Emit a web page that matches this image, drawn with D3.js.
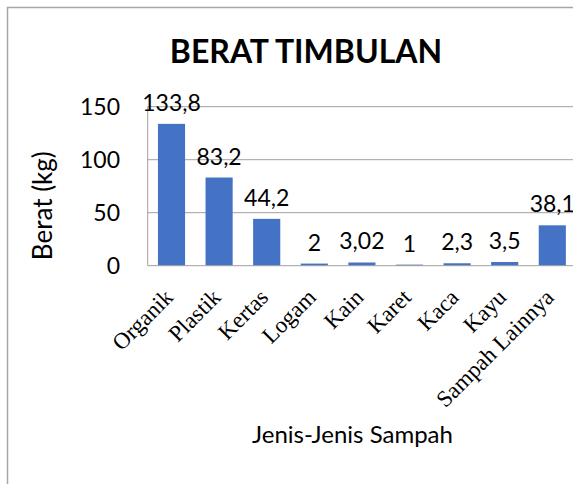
<!DOCTYPE html>
<html>
<head>
<meta charset="utf-8">
<script src="https://cdn.jsdelivr.net/npm/d3@7"></script>
<style>
  html, body { margin: 0; padding: 0; background: #ffffff; }
  svg { display: block; }
</style>
</head>
<body>
<svg id="chart" width="573" height="484"></svg>
<script>
// ---- data ----
const categories = ["Organik", "Plastik", "Kertas", "Logam", "Kain", "Karet", "Kaca", "Kayu", "Sampah Lainnya"];
const values = [133.8, 83.2, 44.2, 2, 3.02, 1, 2.3, 3.5, 38.1];
const valueLabels = ["133,8", "83,2", "44,2", "2", "3,02", "1", "2,3", "3,5", "38,1"];
const yTicks = [0, 50, 100, 150];
const title = "BERAT TIMBULAN";
const yTitle = "Berat (kg)";
const xTitle = "Jenis-Jenis Sampah";

// ---- drawing ----
const svg = d3.select("#chart");
const sans = "Lato, 'Open Sans', sans-serif";
const serif = "'Liberation Serif', 'Times New Roman', serif";

svg.append("rect").attr("width", 573).attr("height", 484).attr("fill", "#ffffff");
// chart frame (extends beyond the window on right and bottom)
svg.append("rect")
  .attr("x", 7.5).attr("y", 7.5).attr("width", 700).attr("height", 600)
  .attr("fill", "none").attr("stroke", "#a6a6a6").attr("stroke-width", 1.5);

const x = d3.scaleBand().domain(categories).range([147.7, 576.1])
  .paddingInner(0.43).paddingOuter(0.215);
const y = d3.scaleLinear().domain([0, 150]).range([265.7, 106.7]);

// gridlines
svg.append("g").selectAll("line").data(yTicks.filter(t => t > 0)).join("line")
  .attr("x1", 147.7).attr("x2", 600)
  .attr("y1", d => y(d)).attr("y2", d => y(d))
  .attr("stroke", "#a0a0a0").attr("stroke-width", 1);

// bars
svg.append("g").selectAll("rect").data(values).join("rect")
  .attr("x", (d, i) => x(categories[i]))
  .attr("width", x.bandwidth())
  .attr("y", d => y(d))
  .attr("height", d => y(0) - y(d))
  .attr("fill", "#4472C4");

// axes lines
svg.append("line").attr("x1", 147.7).attr("x2", 147.7).attr("y1", y(150)).attr("y2", y(0))
  .attr("stroke", "#a0a0a0").attr("stroke-width", 1);
svg.append("line").attr("x1", 147.7).attr("x2", 600).attr("y1", y(0)).attr("y2", y(0))
  .attr("stroke", "#a0a0a0").attr("stroke-width", 1);

// y tick labels
svg.append("g").selectAll("text").data(yTicks).join("text")
  .attr("x", 120).attr("y", d => y(d)).attr("dy", "0.36em")
  .attr("text-anchor", "end")
  .attr("font-family", sans).attr("font-size", 23).attr("fill", "#000")
  .text(d => d);

// data labels
svg.append("g").selectAll("text").data(values).join("text")
  .attr("x", (d, i) => x(categories[i]) + x.bandwidth() / 2)
  .attr("y", d => y(d) - 13)
  .attr("text-anchor", "middle")
  .attr("font-family", sans).attr("font-size", 23).attr("fill", "#000")
  .text((d, i) => valueLabels[i]);

// category labels
svg.append("g").selectAll("text").data(categories).join("text")
  .attr("transform", d => `translate(${x(d) + x.bandwidth() / 2 + 3},${y(0) + 33}) rotate(-45)`)
  .attr("text-anchor", "end")
  .attr("font-family", serif).attr("font-size", 23).attr("fill", "#000")
  .text(d => d);

// title
svg.append("text").attr("x", 306).attr("y", 63.3).attr("text-anchor", "middle")
  .attr("font-family", sans).attr("font-weight", "bold").attr("font-size", 32).attr("fill", "#000")
  .text(title);

// y axis title
svg.append("text").attr("transform", "translate(43,205.7) rotate(-90)")
  .attr("dy", "0.36em").attr("text-anchor", "middle")
  .attr("font-family", sans).attr("font-size", 26).attr("fill", "#000")
  .text(yTitle);

// x axis title
svg.append("text").attr("x", 352.5).attr("y", 443).attr("text-anchor", "middle")
  .attr("font-family", sans).attr("font-size", 24).attr("fill", "#000")
  .text(xTitle);
</script>
</body>
</html>
